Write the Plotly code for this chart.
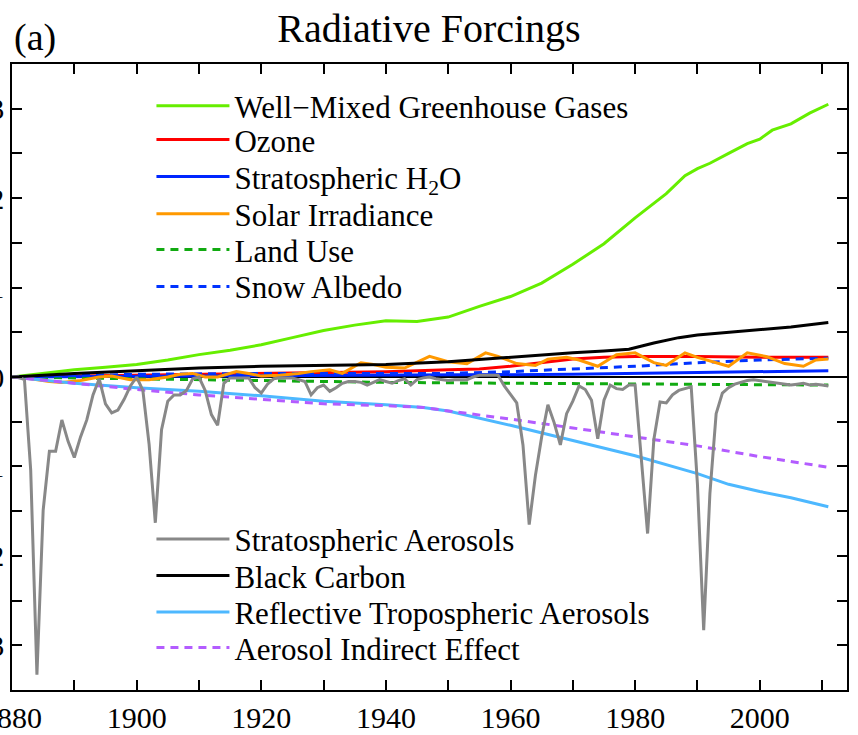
import plotly.graph_objects as go

# ---------------- data ----------------
ghg_years = [1880, 1885, 1890, 1895, 1900, 1905, 1910, 1915, 1920, 1925, 1930, 1935, 1940, 1945,
             1950, 1955, 1960, 1965, 1970, 1975, 1980, 1985, 1988, 1990, 1992, 1995, 1998, 2000,
             2002, 2005, 2008, 2011]
ghg_vals = [0.0, 0.04, 0.08, 0.11, 0.14, 0.19, 0.25, 0.30, 0.36, 0.44, 0.52, 0.58, 0.63, 0.62,
            0.67, 0.79, 0.90, 1.05, 1.26, 1.49, 1.78, 2.05, 2.25, 2.33, 2.39, 2.50, 2.61, 2.66,
            2.76, 2.83, 2.95, 3.05]

ozone_years = [1880, 1900, 1920, 1940, 1950, 1955, 1960, 1965, 1970, 1975, 1980, 1990, 2000, 2011]
ozone_vals = [0.0, 0.02, 0.04, 0.06, 0.08, 0.09, 0.12, 0.16, 0.20, 0.22, 0.23, 0.23, 0.22, 0.22]

h2o_years = [1880, 1920, 1950, 1970, 1990, 2011]
h2o_vals = [0.0, 0.01, 0.02, 0.03, 0.05, 0.07]

solar_years = [1880, 1883, 1886, 1888, 1891, 1894, 1896, 1899, 1902, 1905, 1907, 1909, 1911, 1913,
               1916, 1918, 1920, 1923, 1926, 1928, 1931, 1933, 1936, 1938, 1940, 1943, 1947, 1950,
               1953, 1956, 1958, 1961, 1964, 1966, 1969, 1971, 1974, 1977, 1980, 1983, 1985, 1988,
               1990, 1992, 1995, 1998, 2001, 2004, 2007, 2009, 2011]
solar_vals = [0.0, -0.02, -0.05, -0.06, -0.04, 0.0, 0.01, -0.03, -0.03, 0.0, 0.03, 0.04, 0.0, 0.0,
              0.06, 0.04, 0.01, 0.02, 0.04, 0.06, 0.08, 0.04, 0.16, 0.14, 0.11, 0.10, 0.23, 0.17,
              0.15, 0.27, 0.23, 0.15, 0.13, 0.20, 0.22, 0.19, 0.12, 0.25, 0.27, 0.16, 0.13, 0.27,
              0.22, 0.18, 0.12, 0.27, 0.23, 0.15, 0.12, 0.19, 0.20]

landuse_years = [1880, 1900, 1920, 1940, 1960, 1980, 2011]
landuse_vals = [0.0, -0.02, -0.04, -0.06, -0.07, -0.08, -0.09]

snow_years = [1880, 1900, 1920, 1950, 1960, 1970, 1980, 1990, 2000, 2011]
snow_vals = [0.0, 0.03, 0.04, 0.04, 0.06, 0.09, 0.12, 0.16, 0.19, 0.21]

strat_years = list(range(1880, 2012))
strat_vals = [
    0.0, 0.0, -0.03, -1.04, -3.33, -1.49, -0.83, -0.83, -0.48, -0.72,    # 1880-1889
    -0.90, -0.67, -0.48, -0.20, -0.02, -0.30, -0.40, -0.37, -0.25, -0.10,  # 1890-1899
    0.0, -0.15, -0.75, -1.63, -0.59, -0.27, -0.20, -0.20, -0.15, -0.02,    # 1900-1909
    0.0, -0.15, -0.42, -0.54, -0.07, -0.01, -0.01, -0.01, -0.01, -0.12,    # 1910-1919
    -0.18, -0.08, -0.02, -0.01, -0.01, -0.01, -0.03, -0.05, -0.20, -0.12,  # 1920-1929
    -0.09, -0.16, -0.12, -0.07, -0.05, -0.05, -0.06, -0.09, -0.06, -0.03,  # 1930-1939
    -0.05, -0.07, -0.04, -0.02, -0.09, -0.03, -0.01, 0.0, -0.02, -0.03,    # 1940-1949
    -0.04, -0.03, -0.03, -0.03, 0.0, 0.02, 0.02, 0.02, 0.02, -0.10,        # 1950-1959
    -0.20, -0.29, -0.76, -1.65, -1.10, -0.67, -0.31, -0.51, -0.76, -0.41,  # 1960-1969
    -0.27, -0.10, -0.14, -0.26, -0.69, -0.26, -0.09, -0.13, -0.14, -0.09,  # 1970-1979
    -0.09, -0.88, -1.75, -0.70, -0.28, -0.29, -0.20, -0.15, -0.13, -0.11,  # 1980-1989
    -1.20, -2.83, -1.30, -0.41, -0.18, -0.12, -0.08, -0.06, -0.04, -0.03,  # 1990-1999
    -0.04, -0.05, -0.06, -0.07, -0.08, -0.09, -0.08, -0.07, -0.09, -0.08,  # 2000-2009
    -0.09, -0.10,                                                          # 2010-2011
]

bc_years = [1880, 1890, 1900, 1910, 1920, 1930, 1940, 1950, 1960, 1965, 1970, 1975, 1979, 1983,
            1987, 1990, 1995, 2000, 2005, 2011]
bc_vals = [0.0, 0.04, 0.07, 0.10, 0.12, 0.13, 0.14, 0.17, 0.22, 0.25, 0.27, 0.29, 0.31, 0.38,
           0.44, 0.47, 0.50, 0.53, 0.56, 0.61]

refl_years = [1880, 1890, 1900, 1910, 1920, 1930, 1940, 1946, 1950, 1960, 1970, 1980, 1990, 1995,
              2000, 2005, 2011]
refl_vals = [0.0, -0.07, -0.12, -0.16, -0.21, -0.27, -0.31, -0.34, -0.38, -0.54, -0.71, -0.88,
             -1.08, -1.20, -1.28, -1.35, -1.45]

aie_years = [1880, 1890, 1900, 1910, 1920, 1930, 1940, 1946, 1950, 1960, 1970, 1980, 1990, 2000, 2011]
aie_vals = [0.0, -0.07, -0.14, -0.20, -0.25, -0.30, -0.32, -0.34, -0.38, -0.47, -0.57, -0.67,
            -0.77, -0.89, -1.01]

x_tick_vals = list(range(1880, 2020, 10))
x_tick_text = [str(v) if v % 20 == 0 and v <= 2000 else "" for v in x_tick_vals]
y_tick_vals = [v / 2 for v in range(-6, 7)]
y_tick_text = [("\u2212" + str(int(-v)) if v < 0 else str(int(v))) if v == int(v) else "" for v in y_tick_vals]

FONT = "Liberation Serif"

# ---------------- figure ----------------
fig = go.Figure()

# each legend entry gets its own legend box, so rows can be spaced like the original
legend_rows = {}

def add(x, y, name, color, dash, legend_id, row_y):
    fig.add_trace(go.Scatter(
        x=x, y=y, mode="lines", name=name,
        line=dict(color=color, width=3, dash=dash),
        legend=legend_id,
    ))
    legend_rows[legend_id] = row_y

dashstyle = "8px,6px"
# row_y: paper-fraction of legend row centre
add(ghg_years, ghg_vals, "Well\u2212Mixed Greenhouse Gases", "#66ee00", "solid", "legend", 0.9326)
add(ozone_years, ozone_vals, "Ozone", "#ff0000", "solid", "legend2", 0.8788)
add(h2o_years, h2o_vals, "Stratospheric H<sub>2</sub>O", "#0026ff", "solid", "legend3", 0.8198)
add(landuse_years, landuse_vals, "Land Use", "#11aa11", dashstyle, "legend5", 0.7032)
add(snow_years, snow_vals, "Snow Albedo", "#0033ff", dashstyle, "legend6", 0.6442)
add(solar_years, solar_vals, "Solar Irradiance", "#ff9900", "solid", "legend4", 0.7602)
add(refl_years, refl_vals, "Reflective Tropospheric Aerosols", "#4db8ff", "solid", "legend9", 0.1242)
add(aie_years, aie_vals, "Aerosol Indirect Effect", "#b35cff", dashstyle, "legend10", 0.0672)
add(bc_years, bc_vals, "Black Carbon", "#000000", "solid", "legend8", 0.1822)
add(strat_years, strat_vals, "Stratospheric Aerosols", "#888888", "solid", "legend7", 0.2408)

legend_layout = {}
for lid, ry in legend_rows.items():
    legend_layout[lid] = dict(
        x=0.167, y=ry, xanchor="left", yanchor="middle",
        bgcolor="rgba(0,0,0,0)", borderwidth=0,
        font=dict(family=FONT, size=31, color="black"), itemwidth=73,
    )

fig.update_layout(
    width=858, height=735,
    margin=dict(l=12, r=11, t=64, b=45, autoexpand=False),
    paper_bgcolor="white", plot_bgcolor="white",
    showlegend=True,
    title=dict(text="Radiative Forcings", x=0.5, xref="container", xanchor="center",
               y=0.962, yref="container", yanchor="middle",
               font=dict(family=FONT, size=40, color="black")),
    xaxis=dict(range=[1880, 2014], tickmode="array", tickvals=x_tick_vals, ticktext=x_tick_text,
               ticks="inside", ticklen=10, tickwidth=1.5, tickcolor="black",
               showline=True, linecolor="black", linewidth=1.5, mirror="ticks",
               showgrid=False, zeroline=False, automargin=False, ticklabeloverflow="allow",
               tickfont=dict(family=FONT, size=30, color="black")),
    yaxis=dict(range=[-3.5, 3.5], tickmode="array", tickvals=y_tick_vals, ticktext=y_tick_text,
               ticks="inside", ticklen=10, tickwidth=1.5, tickcolor="black",
               showline=True, linecolor="black", linewidth=1.5, mirror="ticks",
               showgrid=False, zeroline=True, zerolinecolor="black", zerolinewidth=1.5,
               automargin=False, ticklabeloverflow="allow",
               tickfont=dict(family=FONT, size=30, color="black")),
    annotations=[dict(text="(a)", xref="paper", yref="paper", x=0.0, y=1.042,
                      xanchor="left", yanchor="middle", showarrow=False,
                      font=dict(family=FONT, size=38, color="black"))],
    **legend_layout,
)

fig.write_html("out.html", config={"displayModeBar": False},
               post_script="document.body.style.margin='0px';")
